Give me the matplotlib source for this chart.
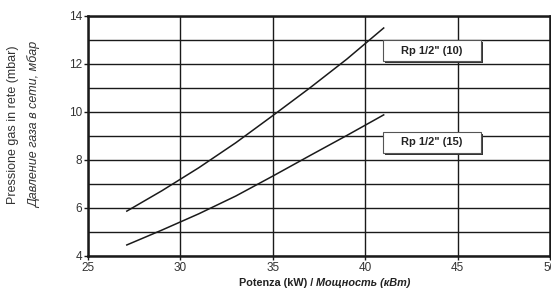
import matplotlib
matplotlib.use('Agg')
from matplotlib import pyplot as plt
from matplotlib.patches import Rectangle

plt.rcParams['font.family'] = ['Liberation Sans', 'DejaVu Sans']

# curve readings (kW, mbar)
power = [27.1, 29, 31, 33, 35, 37, 39, 41]
p_10 = [5.87, 6.72, 7.68, 8.72, 9.85, 11.0, 12.2, 13.5]
p_15 = [4.46, 5.08, 5.76, 6.5, 7.33, 8.18, 9.02, 9.88]
labels = ['Rp 1/2" (10)', 'Rp 1/2" (15)']
label_pos = [(43.6, 12.56), (43.6, 8.73)]

fig = plt.figure(figsize=(5.51, 2.96), dpi=100)
ax = fig.add_axes([88/551, 40/296, 462/551, 240/296])

ax.plot(power, p_10, color='#1a1a1a', lw=1.1, zorder=3)
ax.plot(power, p_15, color='#1a1a1a', lw=1.1, zorder=3)

ax.set_xlim(25, 50)
ax.set_ylim(4, 14)
ax.set_xticks([25, 30, 35, 40, 45, 50])
ax.set_yticks([4, 6, 8, 10, 12, 14])
ax.set_yticks(range(5, 14, 2), minor=True)
ax.grid(True, which='both', color='#1a1a1a', lw=1.0)
ax.set_axisbelow(True)
ax.tick_params(which='minor', length=0)
ax.tick_params(which='major', length=3, width=1, labelsize=8.5, colors='#1a1a1a',
               labelcolor='#333333', pad=1)
for s in ax.spines.values():
    s.set_linewidth(1.8)
    s.set_color('#1a1a1a')

# label boxes with drop shadow
for txt, (xc, yc) in zip(labels, label_pos):
    w, h = 98/18.48, 21/24
    sh = Rectangle((xc - w/2 + 0.1, yc - h/2 - 0.08), w, h, facecolor='#333333',
                   edgecolor='none', zorder=4)
    bx = Rectangle((xc - w/2, yc - h/2), w, h, facecolor='white',
                   edgecolor='#555555', lw=0.8, zorder=5)
    ax.add_patch(sh)
    ax.add_patch(bx)
    ax.text(xc, yc, txt, ha='center', va='center', fontsize=8,
            fontweight='bold', color='#222222', zorder=6)

# axis titles
fig.text(13/551, 1 - 125/296, 'Pressione gas in rete (mbar)', rotation=90,
         ha='center', va='center', fontsize=9, color='#333333')
fig.text(35/551, 1 - 125/296, 'Давление газа в сети, мбар', rotation=90,
         ha='center', va='center', fontsize=9, style='italic', color='#333333')
fig.text(316/551, 1 - 283/296, 'Potenza (kW) / ', ha='right', va='center',
         fontsize=7.8, fontweight='bold', color='#222222')
fig.text(316/551, 1 - 283/296, 'Мощность (кВт)', ha='left', va='center',
         fontsize=7.8, fontweight='bold', style='italic', color='#222222')

fig.savefig('out.png', dpi=100)
